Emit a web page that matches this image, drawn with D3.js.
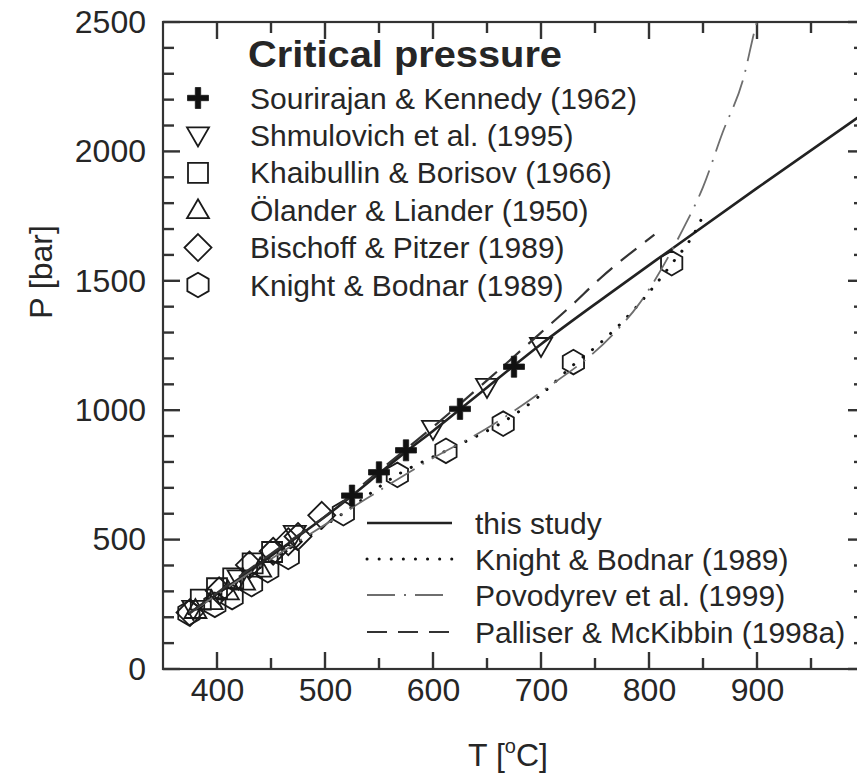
<!DOCTYPE html>
<html>
<head>
<meta charset="utf-8">
<script src="https://cdn.jsdelivr.net/npm/d3@7"></script>
<style>
  html, body { margin: 0; padding: 0; background: #fff; }
  svg { display: block; font-family: "Liberation Sans", Arial, Helvetica, sans-serif; }
</style>
</head>
<body>
<svg id="chart" width="857" height="780"></svg>
<script>
// ---- Critical pressure of H2O–NaCl: experimental data and model curves ----

// Axis ticks
const xTickLabels = [400, 500, 600, 700, 800, 900];
const xMinorTicks = [450, 550, 650, 750, 850, 950];
const yTickLabels = [0, 500, 1000, 1500, 2000, 2500];
const yMinorTicks = [100, 200, 300, 400, 600, 700, 800, 900, 1100, 1200, 1300, 1400,
                     1600, 1700, 1800, 1900, 2100, 2200, 2300, 2400];

// Experimental critical points, T [°C] and P [bar]
const sourirajanT = [525, 550, 575, 625, 675];
const sourirajanP = [670, 760, 845, 1005, 1168];

const shmulovichT = [378, 420, 472, 600, 650, 700];
const shmulovichP = [232, 350, 522, 928, 1090, 1248];

const khaibullinT = [385, 400, 415, 433, 451];
const khaibullinP = [268, 312, 350, 408, 452];

const olanderT = [380, 395, 410, 425, 440];
const olanderP = [228, 262, 300, 338, 388];

const bischoffT = [375, 402, 430, 452, 466, 475, 497];
const bischoffP = [218, 302, 402, 455, 492, 512, 594];

const knightT = [374, 398, 414, 432, 447, 466, 517, 567, 612, 665, 730, 821];
const knightP = [216, 248, 278, 328, 382, 433, 602, 750, 843, 948, 1186, 1568];

// Model curves
const thisStudyT = [374, 400, 425, 450, 475, 500, 525, 550, 575, 600, 650, 700, 760, 820, 900, 1000];
const thisStudyP = [214, 290, 362, 437, 512, 588, 670, 755, 840, 920, 1088, 1255, 1440, 1620, 1858, 2150];

const knightCurveT = [374, 400, 450, 517, 567, 612, 650, 665, 700, 730, 755, 800, 820, 844, 852];
const knightCurveP = [214, 282, 420, 602, 750, 843, 920, 955, 1060, 1175, 1260, 1455, 1560, 1700, 1770];

const povodyrevT = [374, 450, 520, 600, 650, 700, 766, 790, 831, 850, 868, 887, 900, 905];
const povodyrevP = [214, 425, 610, 815, 930, 1070, 1290, 1406, 1696, 1862, 2071, 2276, 2500, 2560];

const palliserT = [374, 450, 500, 550, 600, 650, 700, 727, 755, 805];
const palliserP = [214, 445, 590, 765, 935, 1115, 1300, 1400, 1510, 1678];

// Legend entries
const markerNames = ["Sourirajan & Kennedy (1962)", "Shmulovich et al. (1995)",
  "Khaibullin & Borisov (1966)", "Ölander & Liander (1950)",
  "Bischoff & Pitzer (1989)", "Knight & Bodnar (1989)"];
const curveNames = ["this study", "Knight & Bodnar (1989)",
  "Povodyrev et al. (1999)", "Palliser & McKibbin (1998a)"];

// ---------------------------------------------------------------------------
const svg = d3.select("#chart");
const plotLeft = 163, plotRight = 865, plotTop = 22, plotBottom = 669;
const x = d3.scaleLinear().domain([350, 1000]).range([plotLeft, plotRight]);
const y = d3.scaleLinear().domain([0, 2500]).range([plotBottom, plotTop]);
const ink = "#262626";
const axisInk = "#333333";

svg.append("defs").append("clipPath").attr("id", "plotClip")
  .append("rect").attr("x", plotLeft).attr("y", plotTop)
  .attr("width", plotRight - plotLeft).attr("height", plotBottom - plotTop);

// Frame
svg.append("rect").attr("x", plotLeft).attr("y", plotTop)
  .attr("width", plotRight - plotLeft).attr("height", plotBottom - plotTop)
  .attr("fill", "none").attr("stroke", axisInk).attr("stroke-width", 2.2);

// Tick labels from d3 axes
function labelAxis(g) {
  g.select(".domain").remove();
  g.selectAll(".tick line").remove();
  g.selectAll(".tick text").attr("fill", ink).style("font-size", "32px")
    .style("font-family", "'Liberation Sans', Arial, sans-serif");
}
svg.append("g").attr("transform", `translate(0,${plotBottom})`)
  .call(d3.axisBottom(x).tickValues(xTickLabels).tickSize(0).tickPadding(9).tickFormat(d3.format("d")))
  .call(labelAxis);
svg.append("g").attr("transform", `translate(${plotLeft},0)`)
  .call(d3.axisLeft(y).tickValues(yTickLabels).tickSize(0).tickPadding(17).tickFormat(d3.format("d")))
  .call(labelAxis);

// Inward tick marks on all four sides, drawn as thin filled bars from the scales
const majLen = 17, minLen = 11, tickW = 2.4;
const xTicks = xTickLabels.map(v => [v, majLen]).concat(xMinorTicks.map(v => [v, minLen]));
const yTicks = yTickLabels.map(v => [v, majLen]).concat(yMinorTicks.map(v => [v, minLen]));
const tickG = svg.append("g").attr("fill", axisInk);
tickG.selectAll("rect.xb").data(xTicks).join("rect").attr("class", "xb")
  .attr("x", d => x(d[0]) - tickW / 2).attr("y", d => plotBottom - d[1])
  .attr("width", tickW).attr("height", d => d[1]);
tickG.selectAll("rect.xt").data(xTicks).join("rect").attr("class", "xt")
  .attr("x", d => x(d[0]) - tickW / 2).attr("y", plotTop)
  .attr("width", tickW).attr("height", d => d[1]);
tickG.selectAll("rect.yl").data(yTicks).join("rect").attr("class", "yl")
  .attr("x", plotLeft).attr("y", d => y(d[0]) - tickW / 2)
  .attr("width", d => d[1]).attr("height", tickW);
tickG.selectAll("rect.yr").data(yTicks).join("rect").attr("class", "yr")
  .attr("x", d => plotRight - d[1]).attr("y", d => y(d[0]) - tickW / 2)
  .attr("width", d => d[1]).attr("height", tickW);

// Axis titles
svg.append("text").attr("transform", `translate(52,272) rotate(-90)`)
  .attr("text-anchor", "middle").attr("fill", ink).style("font-size", "32px")
  .text("P [bar]");
const xt = svg.append("text").attr("x", 508).attr("y", 766)
  .attr("text-anchor", "middle").attr("fill", ink).style("font-size", "32px");
xt.append("tspan").text("T [");
xt.append("tspan").attr("dy", -13).style("font-size", "20px").text("o");
xt.append("tspan").attr("dy", 13).text("C]");

// Curve styles
const curveStyles = [
  { stroke: "#222", width: 2.6, dash: null, cap: "butt" },
  { stroke: "#111", width: 3, dash: "0.1,12", cap: "round" },
  { stroke: "#6e6e6e", width: 1.8, dash: "28,9,2,9", cap: "butt" },
  { stroke: "#333", width: 2.2, dash: "20,11", cap: "butt" }
];
const curves = [
  [thisStudyT, thisStudyP], [knightCurveT, knightCurveP],
  [povodyrevT, povodyrevP], [palliserT, palliserP]
];
const line = d3.line().curve(d3.curveMonotoneX)
  .x(d => x(d[0])).y(d => y(d[1]));
const plot = svg.append("g").attr("clip-path", "url(#plotClip)");

// Marker shapes
const shapes = {
  plus: "M-2.7,-10.5h5.4v7.8h7.8v5.4h-7.8v7.8h-5.4v-7.8h-7.8v-5.4h7.8z",
  triDown: "M-11,-8L11,-8L0,11Z",
  square: "M-10,-10h20v20h-20Z",
  triUp: "M-11,8L11,8L0,-11Z",
  diamond: "M0,-13.5L13.5,0L0,13.5L-13.5,0Z",
  hexagon: (() => {
    const r = 12.3;
    return "M" + d3.range(6).map(i => {
      const a = Math.PI / 3 * i - Math.PI / 2;
      return [r * Math.cos(a), r * Math.sin(a)].map(v => v.toFixed(2)).join(",");
    }).join("L") + "Z";
  })()
};
const markerSeries = [
  { T: sourirajanT, P: sourirajanP, shape: "plus", filled: true },
  { T: shmulovichT, P: shmulovichP, shape: "triDown" },
  { T: khaibullinT, P: khaibullinP, shape: "square" },
  { T: olanderT, P: olanderP, shape: "triUp" },
  { T: bischoffT, P: bischoffP, shape: "diamond" },
  { T: knightT, P: knightP, shape: "hexagon" }
];

function drawMarker(g, s, cx, cy) {
  g.append("path").attr("d", shapes[s.shape])
    .attr("transform", `translate(${cx},${cy})`)
    .attr("fill", s.filled ? "#111" : "none")
    .attr("stroke", "#1a1a1a").attr("stroke-width", s.filled ? 0.8 : 1.8)
    .attr("stroke-linejoin", "miter");
}

// Open markers first, then curves, then the filled crosses on top
markerSeries.slice(1).forEach(s => {
  s.T.forEach((t, i) => drawMarker(plot, s, x(t), y(s.P[i])));
});
curves.forEach((c, i) => {
  const st = curveStyles[i];
  plot.append("path")
    .datum(c[0].map((t, j) => [t, c[1][j]]))
    .attr("d", line).attr("fill", "none")
    .attr("stroke", st.stroke).attr("stroke-width", st.width)
    .attr("stroke-dasharray", st.dash).attr("stroke-linecap", st.cap);
});
sourirajanT.forEach((t, i) => drawMarker(plot, markerSeries[0], x(t), y(sourirajanP[i])));

// Marker legend
svg.append("text").attr("x", 248).attr("y", 67).attr("fill", ink)
  .style("font-size", "36px").style("font-weight", "bold")
  .attr("textLength", 314).attr("lengthAdjust", "spacingAndGlyphs")
  .text("Critical pressure");
markerNames.forEach((name, i) => {
  const cy = 98 + i * 37.4;
  drawMarker(svg, markerSeries[i], 198, cy);
  svg.append("text").attr("x", 250).attr("y", cy + 10.5).attr("fill", ink)
    .style("font-size", "30px").text(name);
});

// Curve legend
const curveRows = [523, 559, 595, 632];
curveNames.forEach((name, i) => {
  const st = curveStyles[i];
  svg.append("line").attr("x1", 367).attr("x2", 452)
    .attr("y1", curveRows[i]).attr("y2", curveRows[i])
    .attr("stroke", st.stroke).attr("stroke-width", st.width)
    .attr("stroke-dasharray", st.dash).attr("stroke-linecap", st.cap);
  svg.append("text").attr("x", 475).attr("y", curveRows[i] + 10.5).attr("fill", ink)
    .style("font-size", "30px").text(name);
});
</script>
</body>
</html>
